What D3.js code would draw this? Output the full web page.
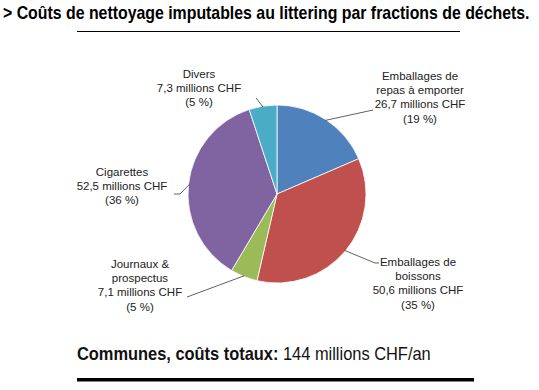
<!DOCTYPE html>
<html><head><meta charset="utf-8">
<script src="https://cdn.jsdelivr.net/npm/d3@7"></script>
<style>body{margin:0;background:#fff}svg{display:block}</style>
</head><body>
<svg id="c" width="539" height="390"></svg>
<script>
const categories = ["Emballages de repas à emporter","Emballages de boissons","Journaux & prospectus","Cigarettes","Divers"];
const labelLines = [["Emballages de","repas à emporter"],["Emballages de","boissons"],["Journaux &","prospectus"],["Cigarettes"],["Divers"]];
const values = [26.7, 50.6, 7.1, 52.5, 7.3];
const valueLabels = ["26,7 millions CHF","50,6 millions CHF","7,1 millions CHF","52,5 millions CHF","7,3 millions CHF"];
const percentLabels = ["(19 %)","(35 %)","(5 %)","(36 %)","(5 %)"];
const colors = ["#4F81BD","#C0504D","#9BBB59","#8064A2","#4BACC6"];
const title = "> Coûts de nettoyage imputables au littering par fractions de déchets.";
const footBold = "Communes, coûts totaux:";
const footRegular = " 144 millions CHF/an";

const svg = d3.select("#c");
const cx = 277, cy = 194, r = 89;

const layout = [
  {x: 420, y: 80, pts: [[373,110]]},
  {x: 418, y: 266, pts: [[375,263],[379,263]]},
  {x: 140, y: 268, pts: [[187,297]]},
  {x: 122, y: 176, pts: [[180,194],[174,194]]},
  {x: 199, y: 78, pts: [[256,98]]}
];

const pie = d3.pie().value(d => d).sort(null);
const arcs = pie(values);
const arc = d3.arc().innerRadius(0).outerRadius(r);

const g = svg.append("g").attr("transform", `translate(${cx},${cy})`);
g.selectAll("path").data(arcs).join("path")
  .attr("d", arc).attr("fill", (d,i) => colors[i])
  .attr("stroke", "#fff").attr("stroke-width", 0.8);

function fitText(sel, x, width) {
  const w = sel.node().getComputedTextLength();
  const s = width / w;
  sel.attr("transform", `translate(${x},0) scale(${s},1)`);
}

// title
const tt = svg.append("text").attr("x", 0).attr("y", 19)
  .attr("font-family", "'Liberation Sans',Arial,sans-serif")
  .attr("font-weight", "bold").attr("font-size", 18)
  .attr("fill", "#000").text(title);
fitText(tt, 3, 527);
svg.append("line").attr("x1", 77).attr("x2", 460).attr("y1", 31.5).attr("y2", 31.5)
  .attr("stroke", "#000").attr("stroke-width", 1);

arcs.forEach((a, i) => {
  const mid = (a.startAngle + a.endAngle) / 2;
  const sx = cx + r * 0.99 * Math.sin(mid), sy = cy - r * 0.99 * Math.cos(mid);
  const pts = [[sx, sy]].concat(layout[i].pts);
  svg.append("path").attr("d", d3.line()(pts)).attr("fill", "none")
    .attr("stroke", "#3a3a3a").attr("stroke-width", 0.8);
  const lines = labelLines[i].concat([valueLabels[i], percentLabels[i]]);
  const t = svg.append("text").attr("x", layout[i].x).attr("y", layout[i].y)
    .attr("text-anchor", "middle")
    .attr("font-family", "'Liberation Sans',Arial,sans-serif").attr("font-size", 11.5)
    .attr("fill", "#222");
  lines.forEach((s, k) => t.append("tspan").attr("x", layout[i].x).attr("dy", k === 0 ? 0 : 14.2).text(s));
});

// footer
const ft = svg.append("text").attr("x", 0).attr("y", 360)
  .attr("font-family", "'Liberation Sans',Arial,sans-serif")
  .attr("font-size", 17.5).attr("fill", "#111");
ft.append("tspan").attr("font-weight", "bold").text(footBold);
ft.append("tspan").text(footRegular);
fitText(ft, 77, 354);
svg.append("rect").attr("x", 77).attr("y", 378).attr("width", 397).attr("height", 3.5).attr("fill", "#000");
</script>
</body></html>
